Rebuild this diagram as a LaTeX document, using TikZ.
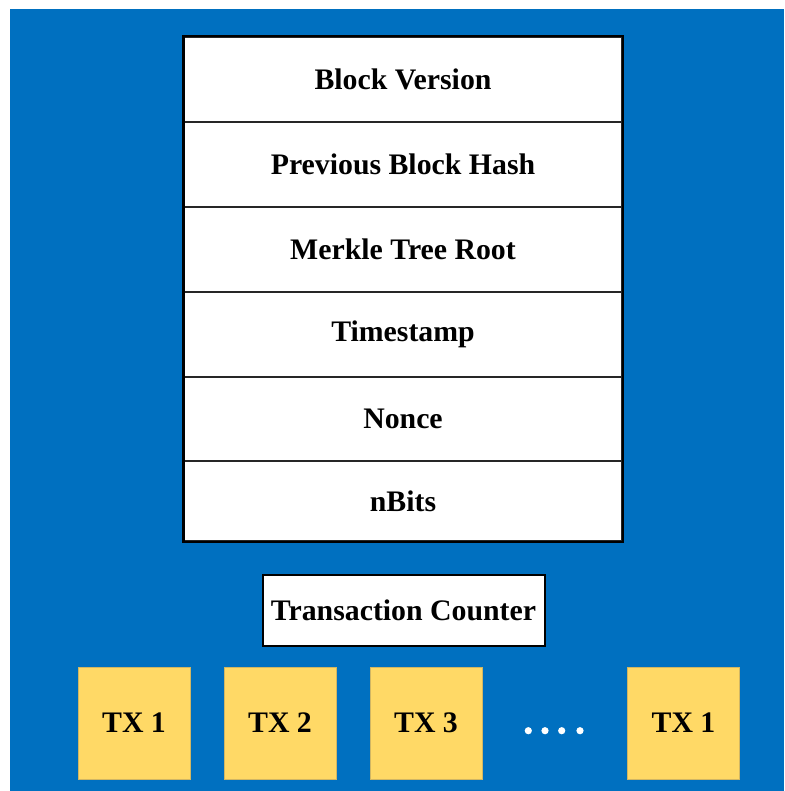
\documentclass[tikz,border=0pt]{standalone}
\usepackage{fontspec}
\setmainfont{Liberation Serif}
\definecolor{panelblue}{HTML}{0070C0}
\definecolor{txgold}{HTML}{FFD966}
\begin{document}
\begin{tikzpicture}[x=1pt,y=-1pt,
  field/.style={draw=black!85,line width=1.4pt,fill=white,minimum width=438pt,
    inner sep=0pt,font=\bfseries\fontsize{29.8}{31}\selectfont},
  counter/.style={draw=black,line width=2pt,fill=white,minimum width=282pt,
    minimum height=71pt,inner sep=0pt,font=\bfseries\fontsize{29.8}{31}\selectfont},
  txbox/.style={draw=txgold!80!black!90,line width=0.4pt,fill=txgold,minimum width=112pt,
    minimum height=112pt,inner sep=0pt,font=\bfseries\fontsize{29.8}{31}\selectfont}]
  \useasboundingbox (0,0) rectangle (784,791);
  % background panel
  \fill[panelblue] (10,9) rectangle (784,791);
  % block header fields
  \node[field,minimum height=85pt] (ver)    at (403,79.5)  {Block Version};
  \node[field,minimum height=85pt] (prev)   at (403,164.5) {Previous Block Hash};
  \node[field,minimum height=85pt] (merkle) at (403,249.5) {Merkle Tree Root};
  \node[field,minimum height=85pt] (time)   at (403,334.5) {Timestamp};
  \node[field,minimum height=84pt] (nonce)  at (403,419)   {Nonce};
  \node[field,minimum height=80pt] (bits)   at (403,501)   {nBits};
  \draw[black,line width=2.4pt] (ver.north west) rectangle (bits.south east);
  % transaction counter
  \node[counter] (count) at (403.5,610.5) {Transaction Counter};
  % transactions
  \node[txbox] (tx1) at (134,723) {TX 1};
  \node[txbox] (tx2) at (280,723) {TX 2};
  \node[txbox] (tx3) at (426,723) {TX 3};
  \node[txbox] (txn) at (683.5,723) {TX 1};
  \foreach \dx in {528.3,545,561.7,580}
    \fill[white] (\dx,730.7) circle (3.6pt);
\end{tikzpicture}
\end{document}
